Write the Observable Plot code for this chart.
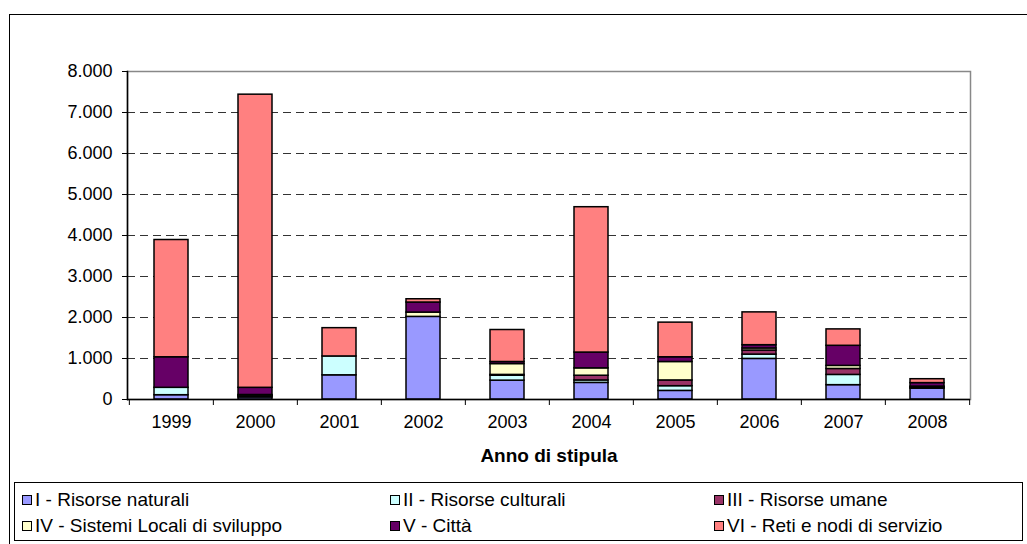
<!DOCTYPE html>
<html><head><meta charset="utf-8">
<script src="https://cdn.jsdelivr.net/npm/d3@7"></script>
<script src="https://cdn.jsdelivr.net/npm/@observablehq/plot@0.6"></script>
<style>
body{margin:0;background:#fff;font-family:"Liberation Sans",Arial,sans-serif;}
#wrap{position:relative;width:1027px;height:544px;overflow:hidden;}
#frame{position:absolute;left:9px;top:14px;width:1040px;height:560px;border:1px solid #000;box-sizing:border-box;}
#chart{position:absolute;left:0;top:0;}
#legend{position:absolute;left:14px;top:482px;width:1009px;height:59px;border:1px solid #000;box-sizing:border-box;font-size:19px;color:#000;background:#fff;}
.item{position:absolute;display:flex;align-items:center;white-space:nowrap;height:24px;}
.sw{width:8px;height:8px;border:1px solid #000;margin-right:3px;}
</style></head>
<body><div id="wrap"><div id="frame"></div><div id="chart"></div><div id="legend"></div></div>
<script>
const years = ["1999","2000","2001","2002","2003","2004","2005","2006","2007","2008"];
const seriesNames = ["I - Risorse naturali","II - Risorse culturali","III - Risorse umane","IV - Sistemi Locali di sviluppo","V - Città","VI - Reti e nodi di servizio"];
const colors = ["#9999FF","#CCFFFF","#993366","#FFFFCC","#660066","#FF8080"];
const sI   = [105, 50, 590, 2015, 460, 405, 210, 990, 350, 265];
const sII  = [180, 25, 460, 0, 120, 60, 115, 105, 250, 10];
const sIII = [0, 20, 0, 0, 20, 115, 140, 100, 145, 25];
const sIV  = [0, 15, 0, 105, 265, 180, 450, 50, 75, 15];
const sV   = [745, 175, 0, 245, 50, 385, 115, 80, 490, 85];
const sVI  = [2860, 7150, 690, 80, 780, 3545, 845, 800, 400, 95];
const yTicks = [0,1000,2000,3000,4000,5000,6000,7000,8000];
const xTitle = "Anno di stipula";

const seriesValues = [sI, sII, sIII, sIV, sV, sVI];
const data = [];
years.forEach((y, i) => seriesValues.forEach((vals, s) => {
  if (vals[i] > 0) data.push({year: y, series: seriesNames[s], value: vals[i]});
}));
const fmt = d3.formatLocale({decimal: ",", thousands: ".", grouping: [3], currency: ["", "€"]}).format(",");
const step = (1027 - 127 - 57) / years.length;

const chart = Plot.plot({
  width: 1027, height: 480,
  marginTop: 71, marginBottom: 81, marginLeft: 127, marginRight: 57,
  style: {fontFamily: "Liberation Sans, Arial, sans-serif", fontSize: "18px", color: "#000", background: "transparent"},
  x: {domain: years, paddingInner: 0.6, paddingOuter: 0.3, label: null},
  y: {domain: [0, 8000], label: null},
  color: {domain: seriesNames, range: colors},
  marks: [
    Plot.frame({stroke: "#888", strokeWidth: 1.5}),
    Plot.ruleY(yTicks.slice(1, -1), {stroke: "#333", strokeDasharray: "8,5", strokeWidth: 1.2}),
    Plot.barY(data, {x: "year", y: "value", fill: "series", stroke: "#000", strokeWidth: 1.5}),
    Plot.ruleY([0], {stroke: "#000", strokeWidth: 1.5}),
    Plot.frame({anchor: "left", stroke: "#000", strokeWidth: 1.5}),
    Plot.axisY({ticks: yTicks, tickSize: 5, tickPadding: 10, tickFormat: fmt, fontSize: 18, label: null}),
    Plot.axisX({tickSize: 0, tickPadding: 16, fontSize: 18, label: null}),
    Plot.axisX({tickSize: 6, tickFormat: () => "", dx: -step / 2, label: null}),
    Plot.axisX({ticks: [years[years.length - 1]], tickSize: 6, tickFormat: () => "", dx: step / 2, label: null}),
    Plot.text([xTitle], {frameAnchor: "bottom", dy: 62, fontWeight: "bold", fontSize: 19, text: d => d})
  ]
});
document.getElementById("chart").appendChild(chart);

const legendX = [7, 375, 699];
const legend = document.getElementById("legend");
seriesNames.forEach((name, i) => {
  const col = i % 3, row = Math.floor(i / 3);
  const el = document.createElement("div");
  el.className = "item";
  el.style.left = legendX[col] + "px";
  el.style.top = (5 + row * 26) + "px";
  el.innerHTML = `<span class="sw" style="background:${colors[i]}"></span><span>${name}</span>`;
  legend.appendChild(el);
});
</script></body></html>
